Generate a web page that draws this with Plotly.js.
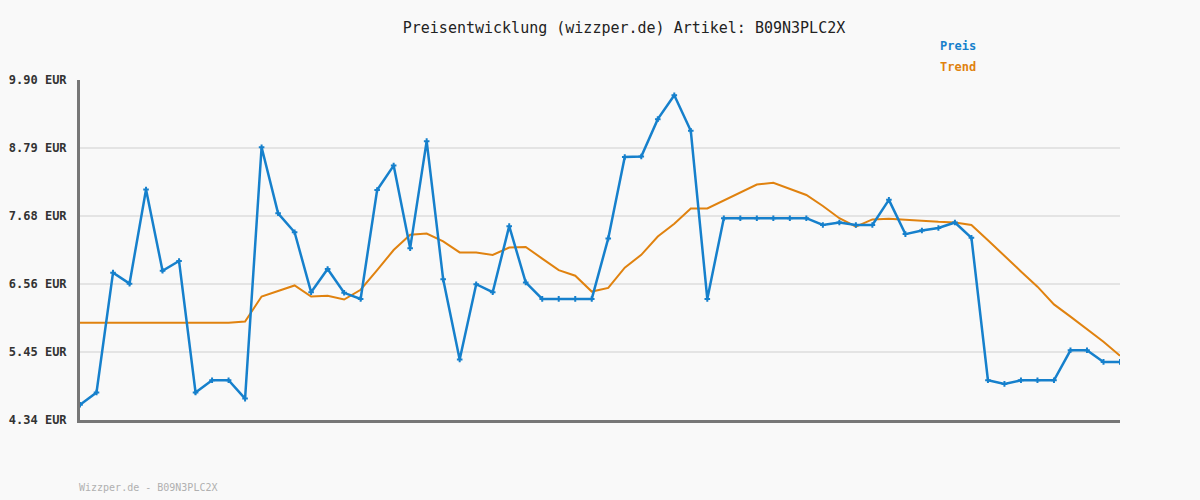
<!DOCTYPE html>
<html>
<head>
<meta charset="utf-8">
<script src="https://cdn.plot.ly/plotly-3.0.1.min.js"></script>
<style>
  html, body { margin: 0; padding: 0; background: #f9f9f9; }
  #chart { width: 1200px; height: 500px; }
</style>
</head>
<body>
<div id="chart"></div>
<script>
const preis = [
  4.59, 4.79, 6.75, 6.57, 8.11, 6.78, 6.94, 4.79, 4.99, 4.99,
  4.69, 8.80, 7.72, 7.41, 6.43, 6.81, 6.42, 6.32, 8.10, 8.50,
  7.15, 8.90, 6.64, 5.33, 6.56, 6.43, 7.51, 6.59, 6.32, 6.32,
  6.32, 6.32, 7.31, 8.64, 8.65, 9.26, 9.65, 9.07, 6.32, 7.64,
  7.64, 7.64, 7.64, 7.64, 7.64, 7.53, 7.57, 7.53, 7.53, 7.94,
  7.38, 7.44, 7.48, 7.57, 7.32, 4.99, 4.93, 4.99, 4.99, 4.99,
  5.48, 5.48, 5.29, 5.29
];
const trend = [
  5.93, 5.93, 5.93, 5.93, 5.93, 5.93, 5.93, 5.93, 5.93, 5.93,
  5.95, 6.36, 6.45, 6.54, 6.36, 6.37, 6.31, 6.47, 6.79, 7.12,
  7.37, 7.39, 7.26, 7.08, 7.08, 7.04, 7.16, 7.17, 6.98, 6.79,
  6.70, 6.44, 6.50, 6.83, 7.04, 7.34, 7.55, 7.80, 7.80, 7.93,
  8.06, 8.19, 8.22, 8.12, 8.02, 7.84, 7.64, 7.50, 7.62, 7.63,
  7.61, 7.60, 7.58, 7.57, 7.53, 7.28, 7.02, 6.77, 6.52, 6.23,
  6.03, 5.83, 5.62, 5.39
];
const tickVals = [4.34, 5.45, 6.56, 7.68, 8.79, 9.90];
const tickText = ["4.34 EUR", "5.45 EUR", "6.56 EUR", "7.68 EUR", "8.79 EUR", "9.90 EUR"];
const titleText = "Preisentwicklung (wizzper.de) Artikel: B09N3PLC2X";
const footerText = "Wizzper.de - B09N3PLC2X";
const seriesNames = ["Preis", "Trend"];

const xs = preis.map((_, i) => i);
const FONT = "DejaVu Sans Mono, Liberation Mono, monospace";
const BLUE = "#1680cc";
const ORANGE = "#e0820f";

const traces = [
  {
    x: xs, y: trend, type: "scatter", mode: "lines", name: seriesNames[1],
    line: { color: ORANGE, width: 2 }, hoverinfo: "skip"
  },
  {
    x: xs, y: preis, type: "scatter", mode: "lines+markers", name: seriesNames[0],
    line: { color: BLUE, width: 2.5 },
    marker: { color: BLUE, size: 4, symbol: "cross-thin", line: { color: BLUE, width: 2 } },
    hoverinfo: "skip"
  }
];

const layout = {
  width: 1200, height: 500,
  paper_bgcolor: "#f9f9f9", plot_bgcolor: "#f9f9f9",
  margin: { l: 80, r: 80, t: 80, b: 80 },
  showlegend: false,
  font: { family: FONT, color: "#333", size: 11 },
  title: {
    text: titleText, x: 0.52, xanchor: "center", y: 0.944, yanchor: "middle",
    font: { family: FONT, size: 15, color: "#222" }
  },
  xaxis: {
    range: [0, xs.length - 1], showgrid: false, zeroline: false,
    showticklabels: false, ticks: "",
    showline: true, linecolor: "#777", linewidth: 3
  },
  yaxis: {
    range: [4.34, 9.90], tickvals: tickVals, ticktext: tickText,
    showgrid: true, gridcolor: "#e4e4e4", gridwidth: 2, zeroline: false,
    showline: true, linecolor: "#777", linewidth: 3, ticks: "",
    ticklabelstandoff: 8,
    tickfont: { family: FONT, size: 12, color: "#333", weight: "bold" }
  },
  annotations: [
    { xref: "paper", yref: "paper", x: (938 - 80) / 1040, y: (500 - 80 - 46) / 340, text: "<b>" + seriesNames[0] + "</b>",
      showarrow: false, xanchor: "left", yanchor: "middle", font: { family: FONT, size: 12, color: BLUE } },
    { xref: "paper", yref: "paper", x: (938 - 80) / 1040, y: (500 - 80 - 67) / 340, text: "<b>" + seriesNames[1] + "</b>",
      showarrow: false, xanchor: "left", yanchor: "middle", font: { family: FONT, size: 12, color: ORANGE } },
    { xref: "paper", yref: "paper", x: -0.003, y: (500 - 80 - 487) / 340, text: footerText,
      showarrow: false, xanchor: "left", yanchor: "middle", font: { family: FONT, size: 10, color: "#b0b0b0" } }
  ]
};

Plotly.newPlot("chart", traces, layout, { staticPlot: true, displayModeBar: false });
</script>
</body>
</html>
